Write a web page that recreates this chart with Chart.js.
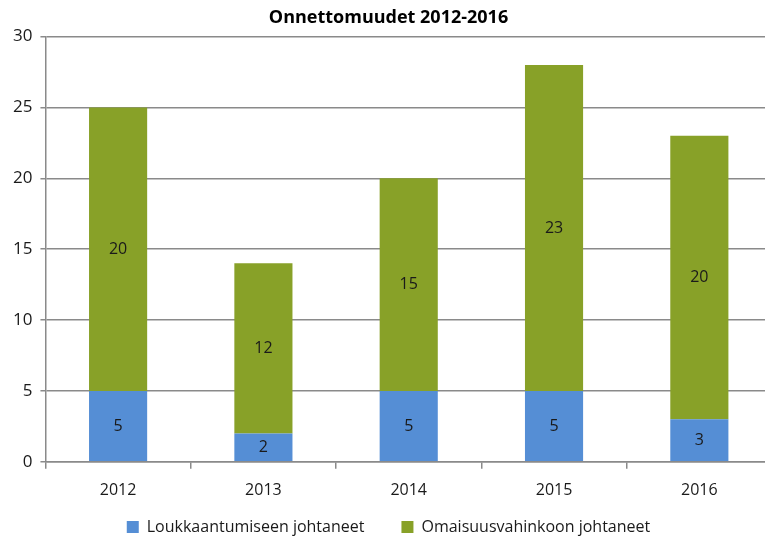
<!DOCTYPE html>
<html>
<head>
<meta charset="utf-8">
<script src="https://cdn.jsdelivr.net/npm/chart.js@4"></script>
<style>
  html, body { margin: 0; padding: 0; background: #fff; overflow: hidden; }
  #wrap { width: 772px; height: 537px; }
</style>
</head>
<body>
<div id="wrap"><canvas id="chart"></canvas></div>
<script>
var years = ["2012", "2013", "2014", "2015", "2016"];
var injuries = [5, 2, 5, 5, 3];
var damages = [20, 12, 15, 23, 20];
var yTicks = [0, 5, 10, 15, 20, 25, 30];

var FONT = "'Open Sans', 'DejaVu Sans', sans-serif";

// draws the value in the middle of each bar segment
var barLabels = {
  id: "barLabels",
  afterDatasetsDraw: function (chart) {
    var ctx = chart.ctx;
    ctx.save();
    ctx.font = "16px " + FONT;
    ctx.fillStyle = "#1a1a1a";
    ctx.textAlign = "center";
    ctx.textBaseline = "middle";
    chart.data.datasets.forEach(function (ds, i) {
      var meta = chart.getDatasetMeta(i);
      meta.data.forEach(function (bar, j) {
        ctx.fillText(String(ds.data[j]), bar.x, (bar.y + bar.base) / 2);
      });
    });
    ctx.restore();
  }
};

// legend padding is wide (gap between items), so pull the legend up a bit
var legendShift = {
  id: "legendShift",
  afterLayout: function (chart) {
    var lg = chart.legend;
    if (!lg) return;
    lg.top -= 30;
    lg.bottom -= 30;
  }
};

new Chart(document.getElementById("chart"), {
  type: "bar",
  data: {
    labels: years,
    datasets: [
      { label: "Loukkaantumiseen johtaneet", data: injuries, backgroundColor: "#558ED5" },
      { label: "Omaisuusvahinkoon johtaneet", data: damages, backgroundColor: "#88A128" }
    ]
  },
  plugins: [barLabels, legendShift],
  options: {
    responsive: true,
    maintainAspectRatio: false,
    animation: false,
    layout: { padding: { left: 5, right: 0, top: 0, bottom: -38 } },
    datasets: { bar: { barPercentage: 0.4, categoryPercentage: 1 } },
    plugins: {
      title: {
        display: true,
        text: "Onnettomuudet 2012-2016",
        color: "#000",
        font: { family: FONT, size: 18, weight: "bold" },
        padding: { top: 7, bottom: 8 }
      },
      legend: {
        position: "bottom",
        labels: {
          color: "#1a1a1a",
          font: { family: FONT, size: 16 },
          boxWidth: 12,
          boxHeight: 12,
          padding: 37
        }
      },
      tooltip: { enabled: false }
    },
    scales: {
      x: {
        stacked: true,
        grid: { drawOnChartArea: false, color: "#8a8a8a", tickLength: 7, lineWidth: 1.5 },
        border: { color: "#8a8a8a", width: 1.5 },
        ticks: { color: "#1a1a1a", font: { family: FONT, size: 16 }, padding: 12 }
      },
      y: {
        stacked: true,
        min: 0,
        max: 30,
        afterBuildTicks: function (axis) {
          axis.ticks = yTicks.map(function (v) { return { value: v }; });
        },
        grid: { color: "#8a8a8a", lineWidth: 1.5, tickLength: 5 },
        border: { color: "#8a8a8a", width: 1.5 },
        ticks: { color: "#1a1a1a", font: { family: FONT, size: 17 }, padding: 8 }
      }
    }
  }
});
</script>
</body>
</html>
